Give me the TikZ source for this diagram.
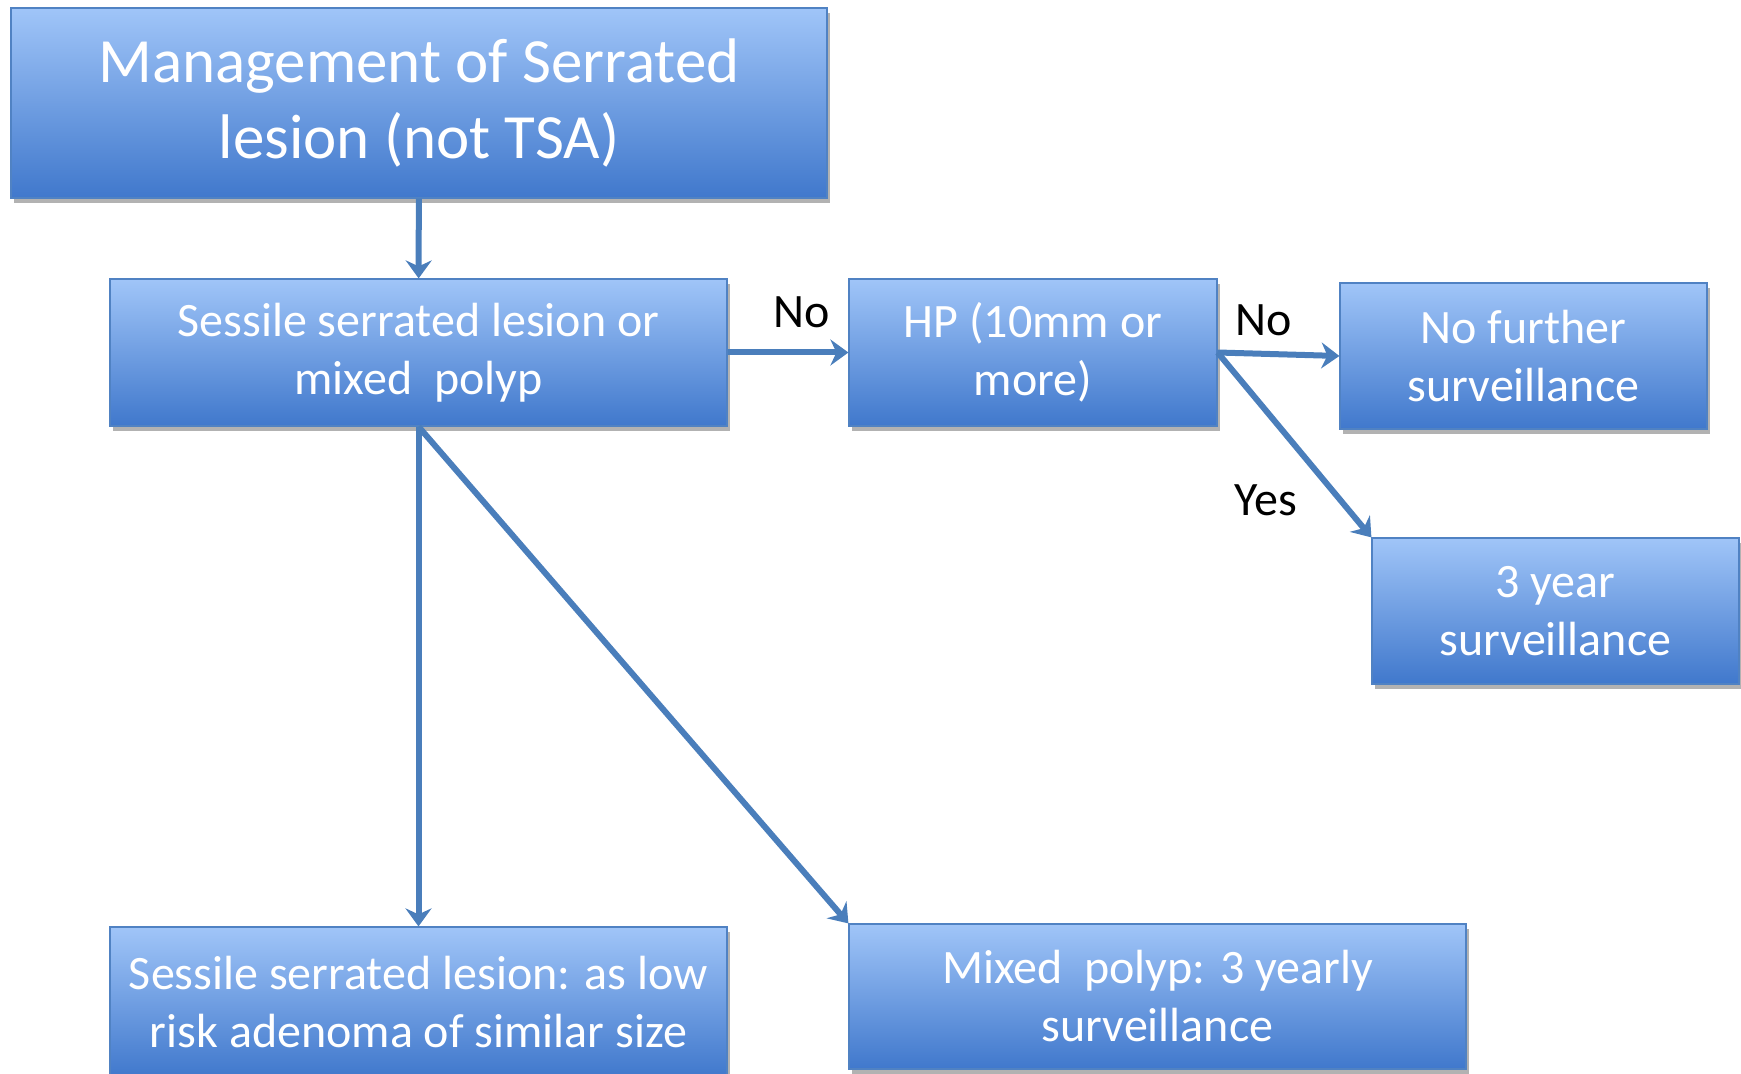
\documentclass[tikz,border=0pt]{standalone}
\usepackage{fontspec}
\setmainfont{Carlito}
\usepackage{xcolor}
\usepackage{tikz}
\usetikzlibrary{arrows.meta,shadows}

\definecolor{boxtop}{RGB}{160,197,248}
\definecolor{boxbot}{RGB}{64,120,204}
\definecolor{boxline}{RGB}{80,130,195}
\definecolor{arrowblue}{RGB}{74,126,187}

\begin{document}
\begin{tikzpicture}[x=0.5pt,y=-0.5pt]
                \tikzstyle{box}=[draw=boxline, line width=0.6pt, top color=boxtop, bottom color=boxbot,
                    text=white, align=center, inner sep=0pt, font=\fontsize{24}{29}\selectfont,
                    drop shadow={shadow xshift=1.5pt, shadow yshift=-2.5pt, opacity=0.3, fill=black}]
                \tikzstyle{conn}=[draw=arrowblue, line width=3pt,
                    -{Stealth[length=9pt,width=13pt,inset=3pt]}]
                \tikzstyle{lbl}=[text=black, inner sep=0pt, font=\fontsize{24}{29}\selectfont]
                \useasboundingbox (0,0) rectangle (1741,1074);
                % boxes
                \node [box, minimum width=408pt, minimum height=95pt, font=\fontsize{31.5}{37.8}\selectfont]
                    (title) at (419,103) {Management of Serrated\\lesion (not TSA)};
                \node [box, minimum width=308.5pt, minimum height=73.5pt] (sessile) at (418.5,352.5)
                    {Sessile serrated lesion or\\mixed~ polyp};
                \node [box, minimum width=184pt, minimum height=73.5pt] (hp) at (1033,352.5)
                    {HP (10mm or\\more)};
                \node [box, minimum width=183.5pt, minimum height=73pt] (nofurther) at (1523.5,356)
                    {No further\\surveillance};
                \node [box, minimum width=183.5pt, minimum height=73pt] (threeyear) at (1555.5,611)
                    {3 year\\surveillance};
                \node [box, minimum width=308.5pt, minimum height=75pt] (sslow) at (418.5,1002)
                    {Sessile serrated lesion: as low\\risk adenoma of similar size};
                \node [box, minimum width=308.5pt, minimum height=72.5pt] (mixed) at (1157.5,996.5)
                    {Mixed~ polyp: 3 yearly\\surveillance};
                % connectors
                \draw [conn] (title) -- (sessile);
                \draw [conn] (sessile) -- (hp);
                \draw [conn] (hp.east) -- (nofurther.west);
                \draw [conn] (hp.east) -- (threeyear.north west);
                \draw [conn] (sessile.south) -- (sslow.north);
                \draw [conn] (sessile.south) -- (mixed.north west);
                % labels
                \node [lbl] (nohp) at (802,312) {No};
                \node [lbl] (nofur) at (1264,320) {No};
                \node [lbl] (yes3) at (1266,500) {Yes};
\end{tikzpicture}
\end{document}
